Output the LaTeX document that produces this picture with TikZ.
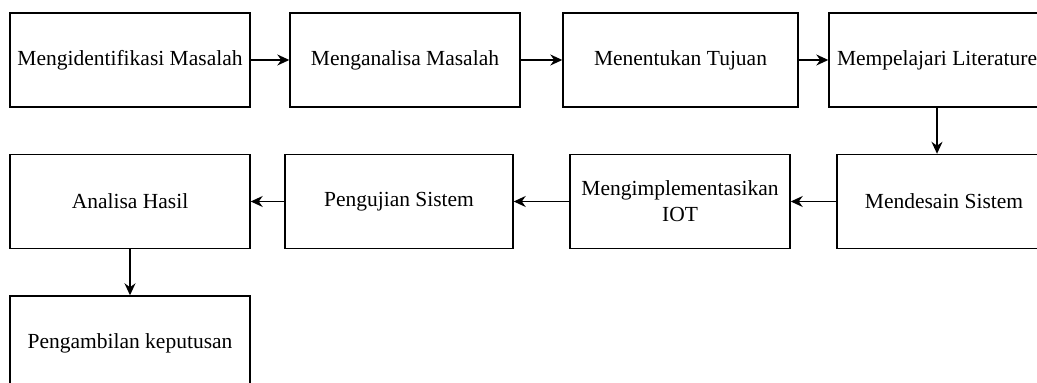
\documentclass[tikz,border=0pt]{standalone}
\usepackage{fontspec}
\setmainfont{Liberation Serif}
\usetikzlibrary{arrows.meta}

\begin{document}
\begin{tikzpicture}[x=0.5pt,y=-0.5pt,
    box/.style={draw,line width=0.7pt,inner sep=2pt,align=center,
        minimum height=47pt,font=\fontsize{10.75}{13}\selectfont},
    arr/.style={-{Stealth[length=6pt,width=5.5pt]},line width=0.7pt}]
            \useasboundingbox (0,0) rectangle (1037,383);
            \clip (0,0) rectangle (1037,383);
            % first row
            \node[box,minimum width=120pt] (ident) at (130,60) {Mengidentifikasi Masalah};
            \node[box,minimum width=115pt] (anls) at (405,60) {Menganalisa Masalah};
            \node[box,minimum width=117.5pt] (tujuan) at (680.5,60) {Menentukan Tujuan};
            \node[box,minimum width=108pt] (lit) at (937,60) {Mempelajari Literature};
            % second row
            \node[box,minimum width=107pt] (desain) at (944,201.5) {Mendesain Sistem};
            \node[box,minimum width=110pt] (iot) at (680,201.5) {Mengimplementasikan\\IOT};
            \node[box,minimum width=114pt] (uji) at (399,201.5) {Pengujian Sistem};
            \node[box,minimum width=120pt] (hasil) at (130,201.5) {Analisa Hasil};
            % third row
            \node[box,minimum width=120pt] (putus) at (130,343) {Pengambilan keputusan};
            \draw[arr] (ident) -- (anls);
            \draw[arr] (anls) -- (tujuan);
            \draw[arr] (tujuan) -- (lit);
            \draw[arr] (lit.south) -- (lit.south |- desain.north);
            \draw[arr] (desain) -- (iot);
            \draw[arr] (iot) -- (uji);
            \draw[arr] (uji) -- (hasil);
            \draw[arr] (hasil) -- (putus);
        \end{tikzpicture}
\end{document}
